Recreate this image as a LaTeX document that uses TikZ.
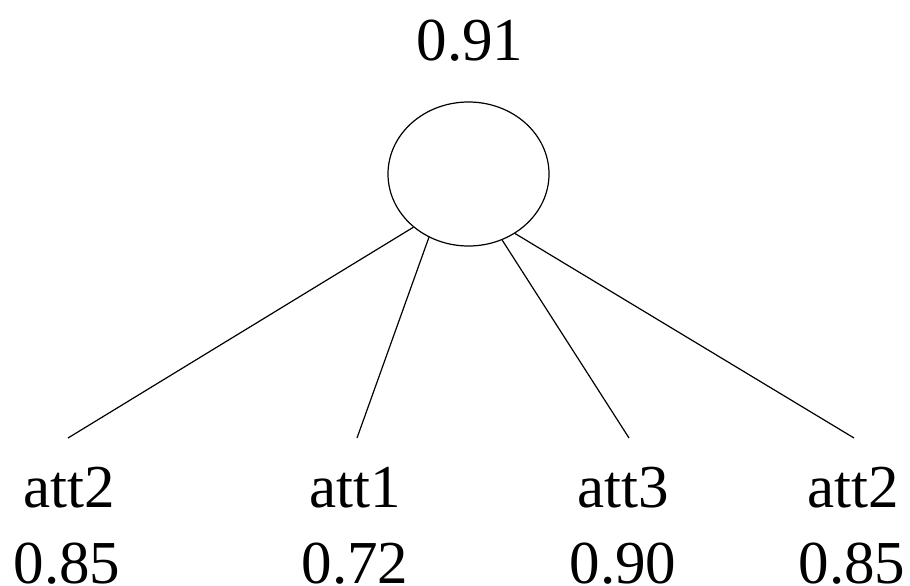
\documentclass[tikz,border=0pt]{standalone}
\usepackage{fontspec}
\setmainfont{Liberation Serif}
\usetikzlibrary{shapes.geometric}
\begin{document}
\begin{tikzpicture}[x=1pt,y=-1pt,
  lbl/.style={anchor=base,inner sep=0pt,text depth=0pt,font=\fontsize{61}{61}\selectfont},
  edge/.style={line width=1.2pt,black},
  root/.style={ellipse,draw,line width=1.2pt,minimum width=161pt,minimum height=144pt,inner sep=0pt}]
\useasboundingbox (0,0) rectangle (910,586);
% root node and its score
\node[root] (r) at (468.5,174) {};
\node[lbl] (rs) at (470,60) {0.91};
% attribute leaves
\node[lbl] (a1) at (69,507) {att2};
\node[lbl] (v1) at (67,583) {0.85};
\node[lbl] (a2) at (355,507) {att1};
\node[lbl] (v2) at (355,583) {0.72};
\node[lbl] (a3) at (623,507) {att3};
\node[lbl] (v3) at (623,583) {0.90};
\node[lbl] (a4) at (853,507) {att2};
\node[lbl] (v4) at (852,583) {0.85};
% end points of the branches above each leaf
\coordinate (e1) at (68,438);
\coordinate (e2) at (357,438);
\coordinate (e3) at (629,438);
\coordinate (e4) at (854,438);
\draw[edge] (r.224) -- (e1);
\draw[edge] (r.238) -- (e2);
\draw[edge] (r.297.6) -- (e3);
\draw[edge] (r.308) -- (e4);
\end{tikzpicture}
\end{document}
